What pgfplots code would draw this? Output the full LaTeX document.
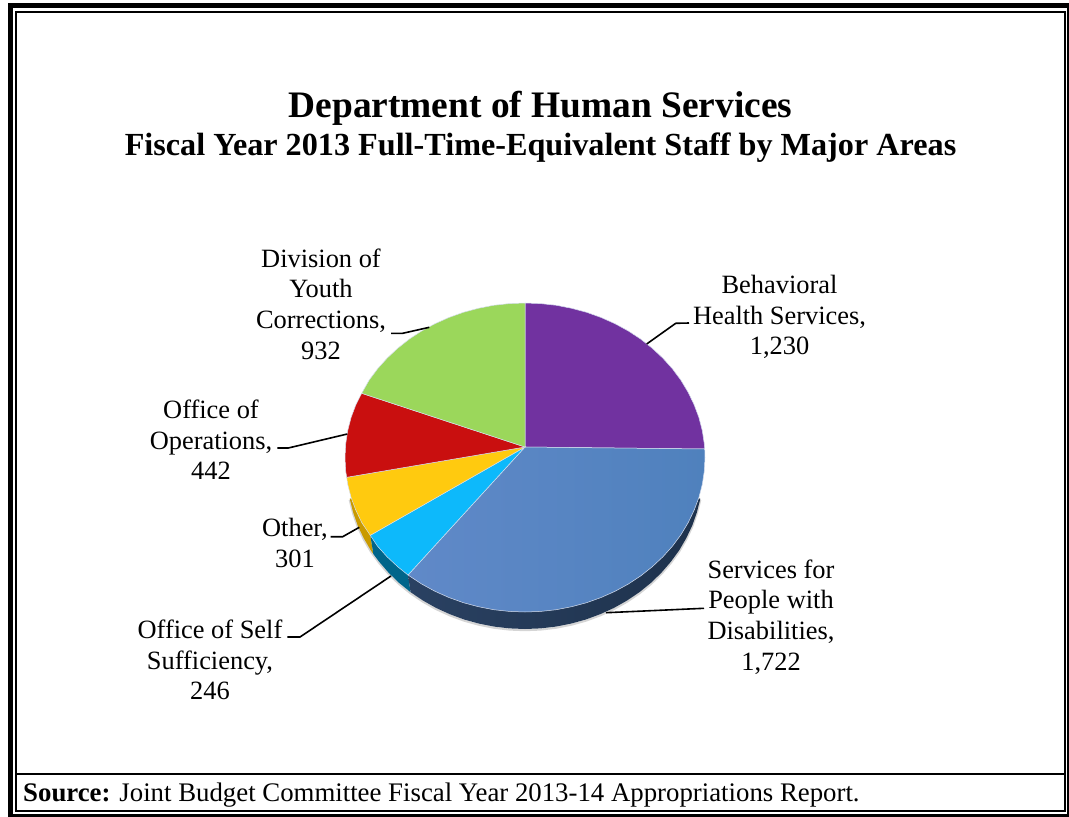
\documentclass[border=0pt]{standalone}
\usepackage{fontspec}
\setmainfont{Liberation Serif}
\usepackage{pgfplots}
\pgfplotsset{compat=1.18}

% FTE by area: Behavioral 1230, Disabilities 1722, Self Sufficiency 246,
% Other 301, Operations 442, Youth Corrections 932 (wedge edges, in pixels)
\definecolor{cPurple}{HTML}{7132A0}
\definecolor{cBlueL}{HTML}{6089C8}
\definecolor{cBlueR}{HTML}{4F81BD}
\definecolor{cCyan}{HTML}{0DB9FB}
\definecolor{cYellow}{HTML}{FFCA0F}
\definecolor{cRed}{HTML}{C90F0F}
\definecolor{cGreen}{HTML}{9BD75B}
\definecolor{cNavyL}{HTML}{2A4162}
\definecolor{cNavy}{HTML}{1E324C}
\definecolor{cCyanD}{HTML}{00658A}
\definecolor{cYellowD}{HTML}{C99A00}
\definecolor{cEdge}{HTML}{D6DEEE}

\tikzset{lab/.style={font=\fontsize{26.4}{30.6}\selectfont, align=center, inner sep=0pt, text=black}}

\begin{document}
\begin{tikzpicture}
\begin{axis}[
    scale only axis,
    width=1069pt,
    height=817pt,
    xmin=0, xmax=1069,
    ymin=0, ymax=817,
    y dir=reverse,
    axis lines=none,
    clip=false,
    ticks=none,
]
% keep the whole page in the picture, hidden axis adds no box
\path (axis cs:0,0) -- (axis cs:1069,817);
% soft shadow under the rim
\addplot[draw=gray!55, line width=2pt, opacity=.6, forget plot] coordinates {
    (349.7,500) (353.1,513.5) (357.7,526.6) (363.7,539.3) (370.8,551.5) (379.2,563) (388.6,573.9)
    (399.1,584.1) (410.6,593.4) (422.9,601.7) (436,609.1) (449.8,615.4) (464.1,620.7) (478.9,624.8)
    (494.1,627.8) (509.5,629.6) (525,630.2) (540.5,629.6) (555.9,627.8) (571.1,624.8) (585.9,620.7)
    (600.2,615.4) (614,609.1) (627.1,601.7) (639.4,593.4) (650.9,584.1) (661.4,573.9) (670.8,563)
    (679.2,551.5) (686.3,539.3) (692.3,526.6) (696.9,513.5) (700.3,500)
};
% rim
\addplot[fill=cYellowD, draw=none, forget plot] coordinates {
    (525,447) (370.3,535.3) (373.3,553.9) (370.8,550.3) (363.7,538.1) (357.7,525.4) (353.1,512.3) (349.7,498.8)
} -- cycle;
\addplot[fill=cCyanD, draw=none, forget plot] coordinates {
    (525,447) (408,575) (410.6,592.2) (399.1,582.9) (388.6,572.7) (379.2,561.8) (373.3,553.9) (370.3,535.3)
} -- cycle;
\addplot[left color=cNavyL, right color=cNavy, draw=none, forget plot] coordinates {
    (525,447) (408,575) (410.6,592.2) (422.9,600.5) (436,607.9) (449.8,614.2) (464.1,619.5) (478.9,623.6)
    (494.1,626.6) (509.5,628.4) (525,629) (540.5,628.4) (555.9,626.6) (571.1,623.6) (585.9,619.5)
    (600.2,614.2) (614,607.9) (627.1,600.5) (639.4,592.2) (650.9,582.9) (661.4,572.7) (670.8,561.8)
    (679.2,550.3) (686.3,538.1) (692.3,525.4) (696.9,512.3) (700.3,498.8)
} -- cycle;
% top surface
\addplot[fill=cPurple, draw=cEdge, line width=.5pt, forget plot] coordinates {
    (525,447) (525,303) (540.7,303.6) (556.3,305.3) (571.6,308.3) (586.6,312.3) (601.1,317.5) (615,323.7)
    (628.2,330.9) (640.7,339.1) (652.3,348.3) (662.9,358.2) (672.5,368.9) (680.9,380.2) (688.1,392.2)
    (694.1,404.7) (698.9,417.5) (702.3,430.7) (704.3,444) (704.7,449)
} -- cycle;
\addplot[left color=cBlueL, right color=cBlueR, draw=cEdge, line width=.5pt, forget plot] coordinates {
    (525,447) (704.7,449) (705,457.5) (704.3,471) (702.3,484.3) (698.9,497.5) (694.1,510.3) (688.1,522.8)
    (680.9,534.8) (672.5,546.1) (662.9,556.8) (652.3,566.7) (640.7,575.9) (628.2,584.1) (615,591.3)
    (601.1,597.5) (586.6,602.7) (571.6,606.7) (556.3,609.7) (540.7,611.4) (525,612) (509.3,611.4)
    (493.7,609.7) (478.4,606.7) (463.4,602.7) (448.9,597.5) (435,591.3) (421.8,584.1) (408,575)
} -- cycle;
\addplot[fill=cCyan, draw=cEdge, line width=.5pt, forget plot] coordinates {
    (525,447) (408,575) (397.7,566.7) (387.1,556.8) (377.5,546.1) (370.3,535.3)
} -- cycle;
\addplot[fill=cYellow, draw=cEdge, line width=.5pt, forget plot] coordinates {
    (525,447) (370.3,535.3) (361.9,522.8) (355.9,510.3) (351.1,497.5) (347.7,484.3) (346.7,477.3)
} -- cycle;
\addplot[fill=cRed, draw=cEdge, line width=.5pt, forget plot] coordinates {
    (525,447) (346.7,477.3) (345.7,471) (345,457.5) (345.7,444) (347.7,430.7) (351.1,417.5) (355.9,404.7) (361.7,393.3)
} -- cycle;
\addplot[fill=cGreen, draw=cEdge, line width=.5pt, forget plot] coordinates {
    (525,447) (361.7,393.3) (369.1,380.2) (377.5,368.9) (387.1,358.2) (397.7,348.3) (409.3,339.1)
    (421.8,330.9) (435,323.7) (448.9,317.5) (463.4,312.3) (478.4,308.3) (493.7,305.3) (509.3,303.6) (525,303)
} -- cycle;

% leader lines
\draw[black, line width=1.6pt] (axis cs:646.7,344) -- (axis cs:675.7,323.3) -- (axis cs:689,323);
\draw[black, line width=1.6pt] (axis cs:391,333.3) -- (axis cs:402.7,333.3) -- (axis cs:429.3,327.3);
\draw[black, line width=1.6pt] (axis cs:277.3,448) -- (axis cs:288.3,448) -- (axis cs:347.3,434);
\draw[black, line width=1.6pt] (axis cs:330.7,536.7) -- (axis cs:342.7,536.7) -- (axis cs:359.3,527.3);
\draw[black, line width=1.6pt] (axis cs:287.3,637) -- (axis cs:300,637) -- (axis cs:391,576);
\draw[black, line width=1.6pt] (axis cs:606,612.7) -- (axis cs:704,608.3);

% labels
\node[lab] at (axis cs:321,304) {Division of\\Youth\\Corrections,\\932};
\node[lab] at (axis cs:779.5,317) {Behavioral\\Health Services,\\1,230};
\node[lab] at (axis cs:211,440) {Office of\\Operations,\\442};
\node[lab] at (axis cs:295,543) {Other,\\301};
\node[lab] at (axis cs:210,660) {Office of Self\\Sufficiency,\\246};
\node[lab] at (axis cs:771,617) {Services for\\People with\\Disabilities,\\1,722};

% titles
\node[font=\fontsize{37.4}{42}\selectfont\bfseries, inner sep=0pt] at (axis cs:540.5,108) {Department of Human Services};
\node[font=\fontsize{32.2}{36}\selectfont\bfseries, inner sep=0pt] at (axis cs:540.5,148) {Fiscal Year 2013 Full-Time-Equivalent Staff by Major Areas};
\node[lab, anchor=west, font=\fontsize{26.8}{30}\selectfont] at (axis cs:23,795) {\textbf{Source:} Joint Budget Committee Fiscal Year 2013-14 Appropriations Report.};

% page frame
\fill[black] (axis cs:8,3) rectangle (axis cs:1069,8);
\fill[black] (axis cs:8,813.5) rectangle (axis cs:1069,817);
\fill[black] (axis cs:8,3) rectangle (axis cs:12.5,817);
\fill[black] (axis cs:1066.7,3) rectangle (axis cs:1069,817);
\draw[black, line width=2pt] (axis cs:16,12) rectangle (axis cs:1065,811);
\draw[black, line width=2pt] (axis cs:16,774) -- (axis cs:1065,774);
\end{axis}
\end{tikzpicture}
\end{document}
